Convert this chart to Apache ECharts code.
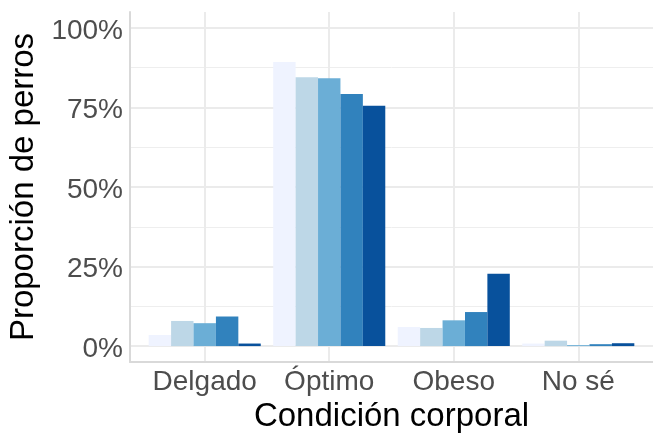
<!DOCTYPE html>
<html>
<head>
<meta charset="utf-8">
<script src="https://cdn.jsdelivr.net/npm/echarts@6/dist/echarts.min.js"></script>
<style>
html,body{margin:0;padding:0;background:#fff;}
#c{width:653px;height:433px;}
</style>
</head>
<body>
<div id="c"></div>
<script>
const categories = ['Delgado', 'Óptimo', 'Obeso', 'No sé'];
const seriesNames = ['Grupo 1', 'Grupo 2', 'Grupo 3', 'Grupo 4', 'Grupo 5'];
const grupo1 = [3.5, 89.3, 6.0, 0.8];
const grupo2 = [7.9, 84.5, 5.7, 1.7];
const grupo3 = [7.2, 84.2, 8.1, 0.3];
const grupo4 = [9.3, 79.2, 10.7, 0.6];
const grupo5 = [0.8, 75.5, 22.7, 0.9];
const yTicks = [0, 25, 50, 75, 100];
const yMinor = [12.5, 37.5, 62.5, 87.5];
const colors = ['#EFF3FF', '#BDD7E7', '#6BAED6', '#3182BD', '#08519C'];
const allSeries = [grupo1, grupo2, grupo3, grupo4, grupo5];

const FONT = '"Liberation Sans", Arial, sans-serif';
const chart = echarts.init(document.getElementById('c'), null, {renderer: 'canvas'});

const panel = {left: 130, right: 0, top: 12, bottom: 71};
// discrete axis expansion of 0.6 units on each side (4 categories => 4.2 units)
const unit = (653 - panel.left - panel.right) / (categories.length - 1 + 1.2);
const inner = {left: panel.left + 0.1 * unit, width: unit * categories.length, top: panel.top, bottom: panel.bottom};

chart.setOption({
  animation: false,
  backgroundColor: '#fff',
  color: colors,
  grid: [
    {left: panel.left, right: panel.right, top: panel.top, bottom: panel.bottom, containLabel: false, outerBoundsMode: 'none'},
    {left: inner.left, width: inner.width, top: inner.top, bottom: inner.bottom, containLabel: false, outerBoundsMode: 'none'}
  ],
  xAxis: [
    {
      type: 'value', gridIndex: 0, min: -0.6, max: categories.length - 1 + 0.6,
      axisLine: {show: true, onZero: false, lineStyle: {color: '#D9D9D9', width: 2}},
      axisTick: {show: false, customValues: [0, 1, 2, 3]},
      axisLabel: {show: false, customValues: [0, 1, 2, 3]},
      splitLine: {show: true, lineStyle: {color: '#EBEBEB', width: 2}}
    },
    {
      type: 'category', gridIndex: 1, data: categories, boundaryGap: true,
      name: 'Condición corporal', nameLocation: 'middle', nameGap: 37,
      nameTextStyle: {fontFamily: FONT, fontSize: 33, color: '#000'},
      axisLine: {show: false}, axisTick: {show: false},
      axisLabel: {fontFamily: FONT, fontSize: 28, color: '#4D4D4D', margin: 6, interval: 0},
      splitLine: {show: false}
    }
  ],
  yAxis: [
    {
      type: 'value', gridIndex: 0, min: -5, max: 105,
      name: 'Proporción de perros', nameLocation: 'middle', nameGap: 72, nameRotate: 90,
      nameTextStyle: {fontFamily: FONT, fontSize: 33, color: '#000'},
      axisLine: {show: true, onZero: false, lineStyle: {color: '#D9D9D9', width: 2}},
      axisTick: {show: false, customValues: yTicks},
      axisLabel: {
        customValues: yTicks, formatter: v => '{t|' + v + '%}', margin: 7,
        rich: {t: {fontFamily: FONT, fontSize: 28, color: '#4D4D4D', padding: [6, 0, 0, 0]}}
      },
      splitLine: {show: true, lineStyle: {color: '#EBEBEB', width: 2}}
    },
    {
      type: 'value', gridIndex: 0, min: -5, max: 105,
      axisLine: {show: false, onZero: false}, axisTick: {show: false, customValues: yMinor},
      axisLabel: {show: false, customValues: yMinor},
      splitLine: {show: true, lineStyle: {color: '#EEEEEE', width: 1}}
    },
    {
      type: 'value', gridIndex: 1, min: -5, max: 105, show: false,
      splitLine: {show: false}
    }
  ],
  series: allSeries.map((d, i) => ({
    name: seriesNames[i], type: 'bar', xAxisIndex: 1, yAxisIndex: 2,
    data: d, barGap: '0%', barCategoryGap: '10%',
    itemStyle: {color: colors[i]}
  }))
});
</script>
</body>
</html>
